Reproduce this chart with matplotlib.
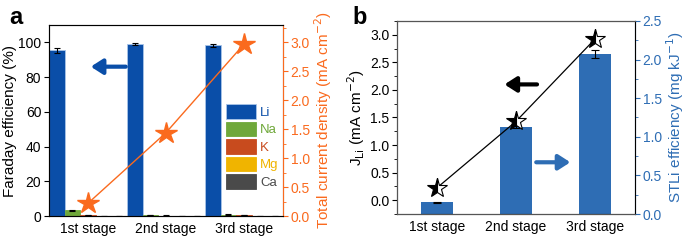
import matplotlib.pyplot as plt
import numpy as np
from matplotlib.ticker import MultipleLocator

plt.rcParams['font.family'] = ['Liberation Sans', 'DejaVu Sans']
plt.rcParams['font.size'] = 10

stages = ["1st stage", "2nd stage", "3rd stage"]
ions = ["Li", "Na", "K", "Mg", "Ca"]
fe_vals = [[95.5, 99.0, 98.3],
           [3.3, 0.4, 0.7],
           [0.5, 0.2, 0.4],
           [0.1, 0.1, 0.1],
           [0.1, 0.1, 0.1]]
fe_errs = [[1.5, 0.5, 1.0],
           [0.3, 0.1, 0.2],
           [0.2, 0.1, 0.1],
           [0.05, 0.05, 0.05],
           [0.05, 0.05, 0.05]]
total_j = [0.22, 1.44, 2.97]
ion_colors = ["#0a4ea8", "#6fa83a", "#c84b1e", "#f0b400", "#4a4a4a"]
orange = "#fa6a1e"

j_li = [0.22, 1.43, 2.93]
stli_eff = [0.15, 1.13, 2.07]
stli_err = [0.01, 0.01, 0.05]
blue_b = "#2e6db4"

arrow = "-|>,head_length=0.7,head_width=0.45"
lab = 11

fig = plt.figure(figsize=(6.85, 2.41), dpi=100)

# ---- panel a
ax = fig.add_axes([49/685, 1-216/241, 234/685, 191/241])
x = np.arange(len(stages))
w = 0.2
for i, ion in enumerate(ions):
    ax.bar(x + (i - 2) * w, fe_vals[i], w, yerr=fe_errs[i], color=ion_colors[i],
           edgecolor="#a9c4e8" if i == 0 else ion_colors[i], linewidth=0.6,
           error_kw=dict(elinewidth=0.8, capsize=2, capthick=0.8, ecolor="black"),
           label=ion)
ax.set_xlim(-0.5, 2.5)
ax.set_ylim(0, 110)
ax.set_xticks(x)
ax.set_xticklabels(stages)
ax.tick_params(axis='x', length=0, pad=4)
ax.tick_params(axis='y', pad=2)
ax.set_yticks([0, 20, 40, 60, 80, 100])
ax.set_ylabel("Faraday efficiency (%)", labelpad=1, fontsize=lab)
for s in ax.spines.values():
    s.set_color("#555555")
    s.set_linewidth(0.8)
leg = ax.legend(loc="upper right", bbox_to_anchor=(1.01, 0.62), frameon=False,
                fontsize=9.5, handlelength=2.3, handleheight=1.35, labelspacing=0.2,
                handletextpad=0.3, borderaxespad=0.1)
for t, c in zip(leg.get_texts(), ion_colors):
    t.set_color(c)
ax.annotate("", xy=(0.0, 86), xytext=(0.52, 86),
            arrowprops=dict(arrowstyle=arrow, lw=3, color="#0a4ea8"))

ax2 = ax.twinx()
ax2.plot(x, total_j, color=orange, lw=1, marker="*", ms=16)
ax2.set_ylim(0, 3.3)
ax2.yaxis.set_major_locator(MultipleLocator(0.5))
ax2.yaxis.set_minor_locator(MultipleLocator(0.25))
ax2.yaxis.set_major_formatter(plt.FormatStrFormatter("%.1f"))
ax2.tick_params(axis='y', colors=orange, which='both', pad=2)
ax2.spines["right"].set_color(orange)
ax2.spines["right"].set_linewidth(0.8)
ax2.set_ylabel("Total current density (mA cm$^{-2}$)", color=orange, labelpad=2, fontsize=lab)
ax2.annotate("", xy=(2.75, 2.6), xytext=(2.3, 2.6),
             arrowprops=dict(arrowstyle=arrow, lw=3, color=orange))

fig.text(9/685, 1-24/241, "a", fontsize=17, fontweight="bold")

# ---- panel b
bx = fig.add_axes([397/685, 1-214/241, 238/685, 193/241])
bx2 = bx.twinx()
bx2.bar(x, stli_eff, 0.4, yerr=stli_err, color=blue_b,
        error_kw=dict(elinewidth=0.8, capsize=3, capthick=0.8, ecolor="black"))
bx2.set_ylim(0, 2.5)
bx2.yaxis.set_major_locator(MultipleLocator(0.5))
bx2.yaxis.set_minor_locator(MultipleLocator(0.25))
bx2.yaxis.set_major_formatter(plt.FormatStrFormatter("%.1f"))
bx2.tick_params(axis='y', colors=blue_b, which='both', pad=2)
bx2.spines["right"].set_color(blue_b)
bx2.set_ylabel("STLi efficiency (mg kJ$^{-1}$)", color=blue_b, labelpad=2, fontsize=lab)
bx2.annotate("", xy=(1.72, 0.67), xytext=(1.22, 0.67),
             arrowprops=dict(arrowstyle=arrow, lw=3, color=blue_b))

bx.set_zorder(bx2.get_zorder() + 1)
bx.patch.set_visible(False)
bx.plot(x, j_li, color="black", lw=0.9, marker="*", ms=15, fillstyle="left",
        markerfacecolor="black", markerfacecoloralt="white", markeredgecolor="black",
        markeredgewidth=0.8)
bx.set_ylim(-0.25, 3.25)
bx.set_xlim(-0.5, 2.5)
bx.yaxis.set_major_locator(MultipleLocator(0.5))
bx.yaxis.set_minor_locator(MultipleLocator(0.25))
bx.yaxis.set_major_formatter(plt.FormatStrFormatter("%.1f"))
bx.set_xticks(x)
bx.set_xticklabels(stages)
bx.tick_params(axis='x', length=0, pad=4)
bx.tick_params(axis='y', pad=2)
bx.set_ylabel("J$_{\\rm Li}$ (mA cm$^{-2}$)", labelpad=2, fontsize=lab)
bx.annotate("", xy=(0.82, 2.1), xytext=(1.3, 2.1),
            arrowprops=dict(arrowstyle=arrow, lw=3, color="black"))
for s in ["left", "top", "bottom"]:
    bx.spines[s].set_color("#555555")
    bx.spines[s].set_linewidth(0.8)

fig.text(352/685, 1-24/241, "b", fontsize=17, fontweight="bold")

fig.savefig("out.png", dpi=100)
